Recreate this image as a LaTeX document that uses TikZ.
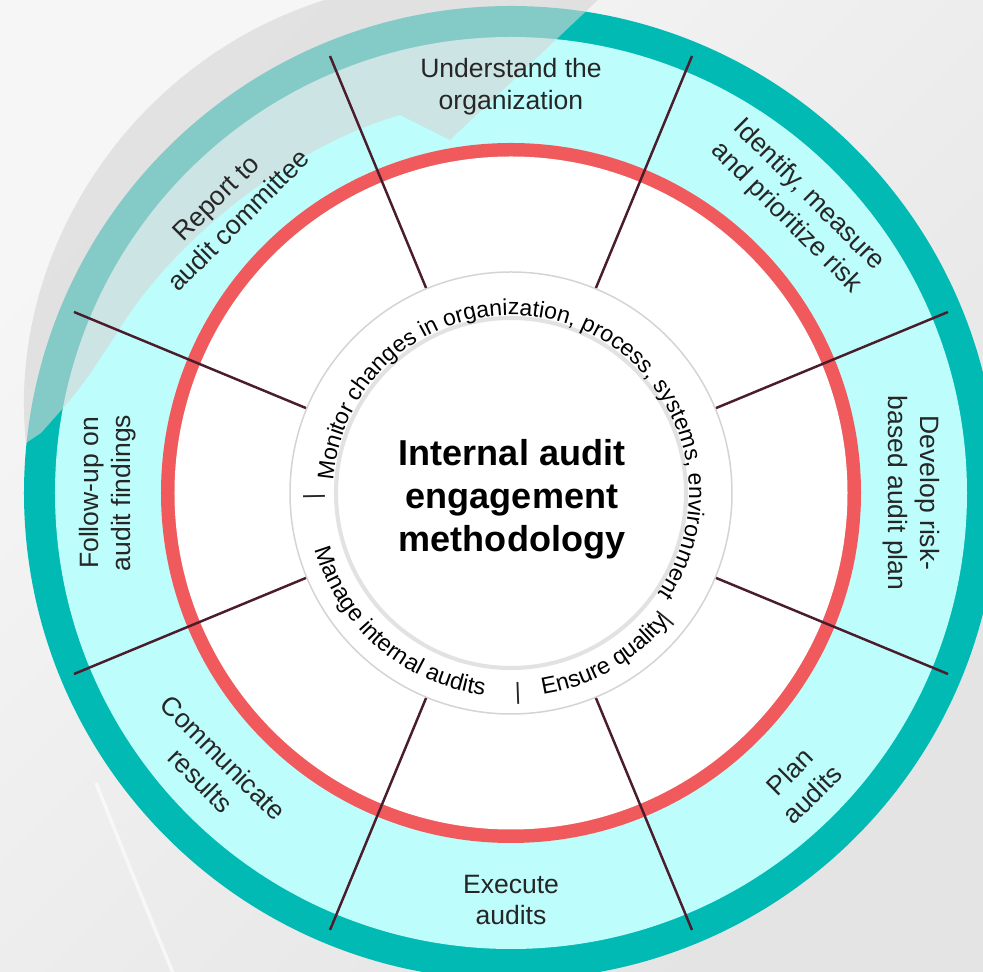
\documentclass[tikz,border=0pt]{standalone}
\usepackage{fontspec}
\setmainfont{Liberation Sans}
\usetikzlibrary{decorations.text}

\definecolor{tealring}{RGB}{0,186,179}
\definecolor{cyanband}{RGB}{189,253,251}
\definecolor{redring}{RGB}{240,90,92}
\definecolor{spokecol}{RGB}{74,28,44}
\definecolor{ringgray}{RGB}{212,212,212}
\definecolor{coregray}{RGB}{226,226,226}
\definecolor{glare}{RGB}{214,214,214}
\definecolor{bgtop}{RGB}{246,246,246}
\definecolor{bgbot}{RGB}{228,228,228}

\newcommand{\labelfont}{\fontsize{15.1pt}{18.2pt}\selectfont}
\newcommand{\ringfont}{\fontsize{13.3pt}{15.5pt}\selectfont}
\newcommand{\topringfont}{\fontsize{13.05pt}{15.5pt}\selectfont}

\begin{document}
\begin{tikzpicture}[
    spoke/.style={draw=spokecol, line width=1.4pt},
    phase/.style={align=center, font=\labelfont, text=black!85},
    sep/.style={font=\ringfont, inner sep=0pt, text=black!85}
]
    % Frame and background
    \useasboundingbox (-10.22,-9.58) rectangle (9.44,9.86);
    \shade[top color=bgtop, bottom color=bgbot, shading angle=45] (-10.22,-9.58) rectangle (9.44,9.86);
    \draw[white, line width=2pt, opacity=0.6] (-8.3,-5.8) .. controls (-7.5,-7.8) .. (-6.76,-9.6);

    % Outer rings
    \fill[tealring] (0,0) circle (9.74);
    \fill[cyanband] (0,0) circle (9.12);
    \fill[redring] (0,0) circle (7.0);
    \fill[white] (0,0) circle (6.73);

    % Glare over the top left
    \fill[glare, opacity=0.62] (1.78,9.9) -- (-1.22,7.06) -- (-2.22,7.56)
        .. controls (-4.5,6.9) and (-6.8,5.0) .. (-7.88,3.2) .. controls (-8.6,2.1) .. (-9.4,1.2) -- (-9.7,1.0)
        .. controls (-10.1,4.8) and (-7.6,8.7) .. (-3.6,9.9) -- cycle;

    % Spokes between the phases
    \draw[spoke] (22.5:4.42) -- (22.5:9.46);
    \draw[spoke] (67.5:4.42) -- (67.5:9.46);
    \draw[spoke] (112.5:4.42) -- (112.5:9.46);
    \draw[spoke] (157.5:4.42) -- (157.5:9.46);
    \draw[spoke] (202.5:4.42) -- (202.5:9.46);
    \draw[spoke] (247.5:4.42) -- (247.5:9.46);
    \draw[spoke] (292.5:4.42) -- (292.5:9.46);
    \draw[spoke] (337.5:4.42) -- (337.5:9.46);

    % Inner circles
    \draw[ringgray, line width=0.85pt] (0,0) circle (4.42);
    \draw[coregray, line width=2.3pt] (0,0) circle (3.5);

    % Centre title
    \node[font=\bfseries\fontsize{20.5pt}{24.5pt}\selectfont, align=center] (core) at (0.02,-0.12) {Internal audit\\engagement\\methodology};

    % Texts round the core
    \path[decorate, decoration={text along path, text={|\topringfont|Monitor changes in organization, process, systems, environment}}]
        (176:3.56) arc[start angle=176, end angle=-60, radius=3.56];
    \path[decorate, decoration={text along path, text={|\ringfont|Manage internal audits}}]
        (196:4.08) arc[start angle=196, end angle=272, radius=4.08];
    \path[decorate, decoration={text along path, text={|\ringfont|Ensure quality}}]
        (279:4.08) arc[start angle=279, end angle=338, radius=4.08];
    \node[sep, rotate=91] (sepleft) at (181:3.94) {|};
    \node[sep, rotate=2] (sepbottom) at (272:4.02) {|};
    \node[sep, rotate=51] (sepright) at (321:3.98) {|};

    % Phase labels
    \node[phase] (understand) at (90:8.12) {Understand the\\organization};
    \node[phase, rotate=-45] (identify) at (45:8.1) {Identify, measure\\and prioritize risk};
    \node[phase, rotate=-90] (develop) at (0:8.0) {Develop risk-\\based audit plan};
    \node[phase, rotate=45] (plan) at (-45:8.2) {Plan\\audits};
    \node[phase] (execute) at (-90:8.14) {Execute\\audits};
    \node[phase, rotate=-45] (communicate) at (-5.98,-5.52) {Communicate\\results};
    \node[phase, rotate=90] (followup) at (180:8.06) {Follow-up on\\audit findings};
    \node[phase, rotate=45] (report) at (135:8.03) {Report to\\audit committee};
\end{tikzpicture}
\end{document}
